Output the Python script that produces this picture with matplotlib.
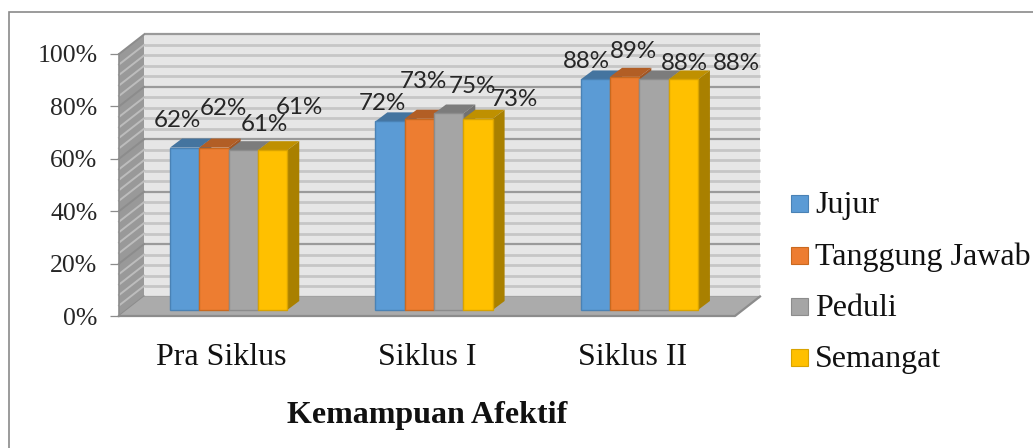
import matplotlib
matplotlib.use("Agg")
import matplotlib.pyplot as plt
from matplotlib.patches import Polygon, Rectangle

categories = ["Pra Siklus", "Siklus I", "Siklus II"]
series_names = ["Jujur", "Tanggung Jawab", "Peduli", "Semangat"]
jujur = [62, 72, 88]
tanggung_jawab = [62, 73, 89]
peduli = [61, 75, 88]
semangat = [61, 73, 88]
y_ticks = [0, 20, 40, 60, 80, 100]

series = [jujur, tanggung_jawab, peduli, semangat]
face = ["#5B9BD5", "#ED7D31", "#A5A5A5", "#FFC000"]
top = ["#44749F", "#B25E25", "#7C7C7C", "#BF9000"]
side = ["#3D6A92", "#A25522", "#717171", "#A98000"]
edge = ["#4A82B5", "#C9691F", "#8C8C8C", "#D9A300"]
# label offsets in px from the top-centre of each bar's front face
label_off = [[(-7, 27), (9, 39), (21, 26), (27, 43)],
             [(-8, 18), (4, 37), (24, 27), (36, 19)],
             [(-9, 18), (9, 25), (30, 16), (53, 16)]]

W, H = 1033, 448
fig = plt.figure(figsize=(W / 100, H / 100), dpi=100)
fig.patch.set_facecolor("white")
fig.add_artist(Rectangle((8.5 / W, -0.02), 1.1, 1 - 12.5 / H + 0.02, transform=fig.transFigure,
                         fill=False, ec="#8A8A8A", lw=1.2))

L, R, B, T = 119, 735, 316, 54
ax = fig.add_axes([L / W, 1 - B / H, (R - L) / W, (B - T) / H])
ax.set_xlim(-0.5, 2.5)
ax.set_ylim(0, 100)
ax.patch.set_visible(False)
for s in ax.spines.values():
    s.set_visible(False)
px = 3 / (R - L)        # x units per pixel
py = 100 / (B - T)      # y units per pixel
WX, WY = 25 * px, 19.5 * py
x0, x1 = -0.5, 2.5

def poly(pts, fc, ec="none", lw=0, z=1):
    ax.add_patch(Polygon(pts, closed=True, fc=fc, ec=ec, lw=lw, zorder=z, clip_on=False))

# back wall, side wall, floor
poly([(x0 + WX, WY), (x1 + WX, WY), (x1 + WX, 100 + WY), (x0 + WX, 100 + WY)], "#E6E6E6")
poly([(x0, 0), (x0 + WX, WY), (x0 + WX, 100 + WY), (x0, 100)], "#999999")
poly([(x0, 0), (x1, 0), (x1 + WX, WY), (x0 + WX, WY)], "#ABABAB", z=2)
for g in range(0, 101, 4):
    major = g % 20 == 0
    c = "#9A9A9A" if major else "#C6C6C6"
    lw = 1.6 if major else 2.0
    ax.plot([x0 + WX, x1 + WX], [g + WY, g + WY], color=c, lw=lw, zorder=1.5, solid_capstyle="butt", clip_on=False)
    ax.plot([x0, x0 + WX], [g, g + WY], color="#8C8C8C" if major else "#BDBDBD", lw=1.4, zorder=1.5, clip_on=False)
ax.plot([x0, x1, x1 + WX], [0, 0, WY], color="#8C8C8C", lw=1.6, zorder=2.5, clip_on=False)
ax.plot([x0, x0], [0, 100], color="#8C8C8C", lw=1.2, zorder=2.5, clip_on=False)

# bars
BW = 29.3 * px
OX, OY = 7 * px, 6 * py
DX, DY = 12 * px, 9 * py
for c in range(len(categories)):
    for i, vals in enumerate(series):
        v = vals[c]
        a = c + OX + (i - 2) * BW
        b = a + BW
        z = 5 + i
        poly([(a, OY + v), (b, OY + v), (b + DX, OY + v + DY), (a + DX, OY + v + DY)], top[i], z=z)
        poly([(b, OY), (b + DX, OY + DY), (b + DX, OY + v + DY), (b, OY + v)], side[i], z=z)
        ax.add_patch(Rectangle((a, OY), BW, v, fc=face[i], ec=edge[i], lw=1.0, zorder=z + 0.5, clip_on=False))
        dx, dy = label_off[c][i]
        ax.annotate(f"{v}%", (a + BW / 2, OY + v), xytext=(dx * 0.72, dy * 0.72), textcoords="offset points",
                    ha="center", va="center", fontsize=17.4, family="Lato", color="#262626", zorder=20,
                    annotation_clip=False)

ax.set_xticks(range(len(categories)))
ax.set_xticklabels(categories, family="Liberation Serif", fontsize=23, color="#111111")
ax.tick_params(axis="x", length=0, pad=19.5)
ax.set_yticks(y_ticks)
ax.set_yticklabels([f"{t}%" for t in y_ticks], family="Liberation Serif", fontsize=18.5, color="#262626")
ax.tick_params(axis="y", length=6.5, width=0.9, color="#8C8C8C", pad=9)

fig.text(427 / W, 1 - 415 / H, "Kemampuan Afektif", family="Liberation Serif", fontsize=23,
         weight="bold", ha="center", va="center", color="#111111")

# legend
leg_y = [203, 255, 306, 357]
for i, name in enumerate(series_names):
    fig.add_artist(Rectangle((790.5 / W, 1 - (leg_y[i] + 9) / H), 17 / W, 17 / H, transform=fig.transFigure,
                             fc=face[i], ec=edge[i], lw=0.8))
    fig.text(815 / W, 1 - (leg_y[i] + 2) / H, name, family="Liberation Serif", fontsize=23,
             ha="left", va="center", color="#111111")

fig.savefig("out.png", dpi=100)
